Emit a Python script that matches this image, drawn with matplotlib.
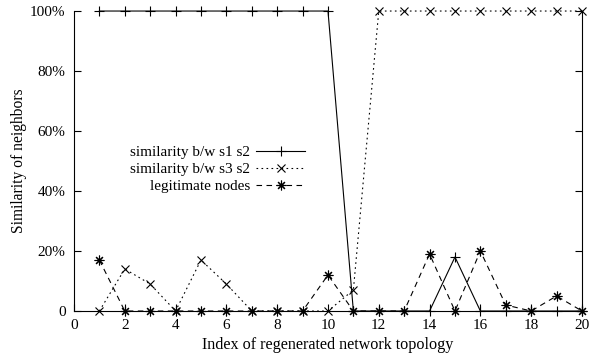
import numpy as np
import matplotlib
matplotlib.use("Agg")
import matplotlib.pyplot as plt

plt.rcParams['font.family'] = ['Liberation Serif', 'DejaVu Serif']
plt.rcParams['font.size'] = 11

# Индексы топологий и сходство соседей (%)
idx = np.arange(1, 21)
sim_s1_s2 = [100, 100, 100, 100, 100, 100, 100, 100, 100, 100,
             0, 0, 0, 0, 18, 0, 0, 0, 0, 0]
sim_s3_s2 = [0, 14, 9, 0, 17, 9, 0, 0, 0, 0,
             7, 100, 100, 100, 100, 100, 100, 100, 100, 100]
legit = [17, 0, 0, 0, 0, 0, 0, 0, 0, 12,
         0, 0, 0, 19, 0, 20, 2, 0, 5, 0]

x_ticks = np.arange(0, 21, 2)
y_ticks = [0, 20, 40, 60, 80, 100]
y_ticklabels = ['0', '20%', '40%', '60%', '80%', '100%']

fig = plt.figure(figsize=(5.98, 3.56), dpi=100)
ax = fig.add_axes([0.1237, 0.1264, 0.8495, 0.8426])

lw = 0.8
ax.plot(idx, sim_s1_s2, color='black', lw=lw, linestyle='-',
        marker='+', markersize=7, markeredgewidth=0.8,
        label='similarity b/w s1 s2', clip_on=False, zorder=3)
ax.plot(idx, sim_s3_s2, color='black', lw=lw, linestyle=(0, (1.5, 3)),
        marker='x', markersize=6, markeredgewidth=0.8,
        label='similarity b/w s3 s2', clip_on=False, zorder=3)
ax.plot(idx, legit, color='black', lw=lw, linestyle=(0, (5, 4)),
        marker=(8, 2, 0), markersize=7, markeredgewidth=0.8,
        label='legitimate nodes', clip_on=False, zorder=3)

ax.set_xlim(0, 20)
ax.set_ylim(0, 100)
ax.set_xticks(x_ticks)
ax.set_yticks(y_ticks)
ax.set_yticklabels(y_ticklabels)
ax.tick_params(direction='in', length=5, width=0.8, right=True,
               labelright=False, pad=6)
ax.spines['top'].set_visible(False)
for s in ['left', 'bottom', 'right']:
    ax.spines[s].set_linewidth(0.8)

ax.set_xlabel('Index of regenerated network topology', fontsize=11.6, labelpad=3.5)
ax.set_ylabel('Similarity of neighbors', fontsize=11.2, labelpad=2)

ax.legend(loc='center right', bbox_to_anchor=(0.455, 0.473),
          frameon=False, markerfirst=False, handlelength=3.2,
          handletextpad=0.4, labelspacing=0.22, borderpad=0,
          borderaxespad=0)

fig.savefig('out.png', dpi=100)
